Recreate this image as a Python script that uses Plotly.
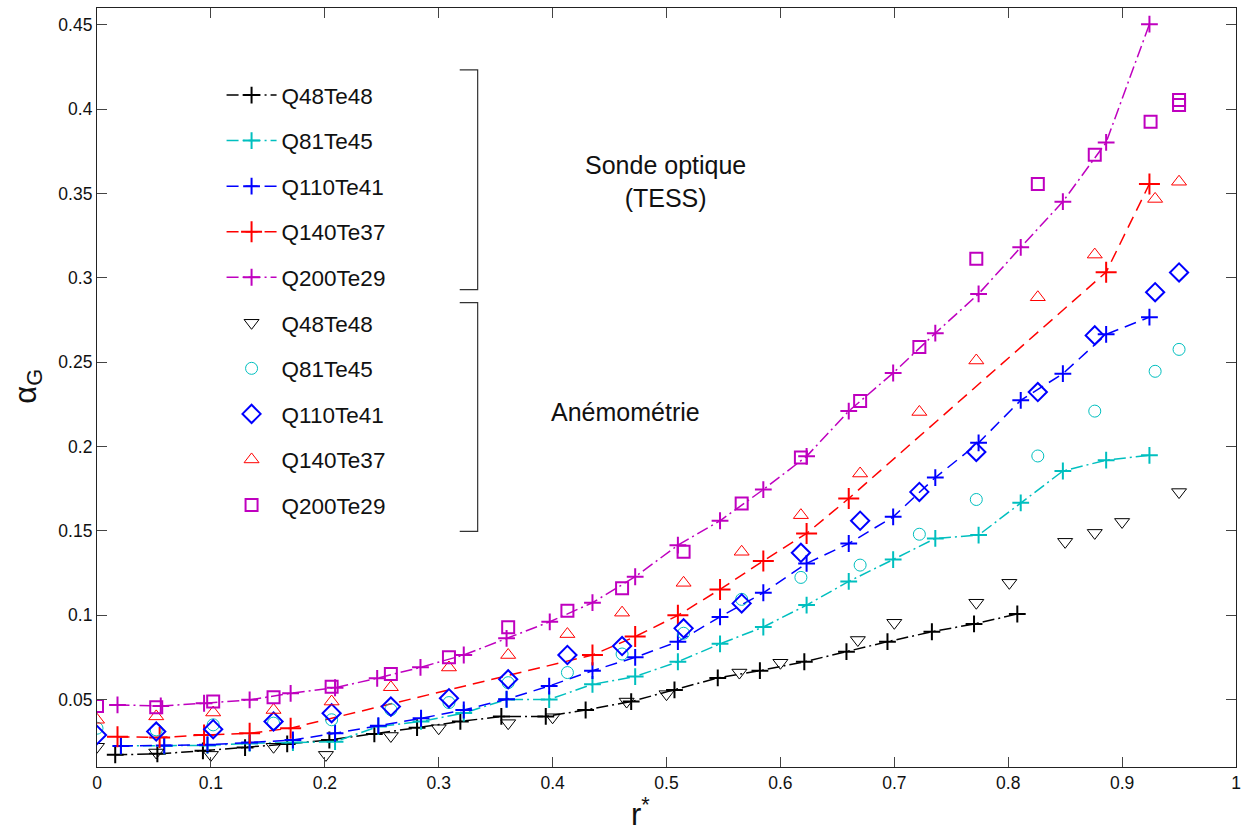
import plotly.graph_objects as go

# ---------------- data ----------------
# TESS optical probe (lines with "+" markers)
tess_x_q48 = [0.016, 0.053, 0.093, 0.130, 0.167, 0.204, 0.2435, 0.281, 0.319, 0.355, 0.394,
              0.429, 0.469, 0.507, 0.545, 0.582, 0.621, 0.658, 0.694, 0.733, 0.770, 0.808]
tess_y_q48 = [0.0172, 0.0178, 0.0196, 0.0215, 0.0237, 0.026, 0.0296, 0.0333, 0.037, 0.040, 0.040,
              0.0438, 0.0488, 0.0557, 0.0628, 0.0671, 0.0724, 0.0784, 0.0843, 0.0902, 0.0948, 0.1007]

tess_x_q81 = [0.021, 0.059, 0.097, 0.134, 0.172, 0.209, 0.247, 0.2845, 0.322, 0.3596, 0.397, 0.435,
              0.4725, 0.51, 0.547, 0.585, 0.623, 0.66, 0.699, 0.736, 0.774, 0.811, 0.848, 0.886, 0.924]
tess_y_q81 = [0.0225, 0.0225, 0.0228, 0.024, 0.0245, 0.025, 0.034, 0.037, 0.042, 0.050, 0.050, 0.059,
              0.0636, 0.0724, 0.083, 0.093, 0.106, 0.120, 0.133, 0.1455, 0.1475, 0.1666, 0.1855, 0.1919, 0.1948]

tess_x_q110 = [0.021, 0.059, 0.097, 0.134, 0.172, 0.209, 0.247, 0.2845, 0.322, 0.3596, 0.397, 0.435,
               0.4725, 0.51, 0.547, 0.585, 0.623, 0.66, 0.699, 0.736, 0.774, 0.811, 0.848, 0.886, 0.924]
tess_y_q110 = [0.0225, 0.0228, 0.0232, 0.0245, 0.026, 0.030, 0.0345, 0.0389, 0.0438, 0.0502, 0.058, 0.0671,
               0.075, 0.0843, 0.099, 0.1133, 0.1307, 0.1425, 0.1583, 0.1816, 0.2022, 0.2274, 0.2432, 0.2665, 0.2767]

tess_x_q140 = [0.018, 0.055, 0.094, 0.134, 0.17, 0.435, 0.4725, 0.51, 0.547, 0.585, 0.623, 0.66, 0.886, 0.924]
tess_y_q140 = [0.028, 0.0275, 0.029, 0.030, 0.033, 0.0764, 0.0873, 0.0999, 0.1153, 0.1322, 0.1485, 0.1692, 0.3034, 0.3557]

tess_x_q200 = [0.018, 0.056, 0.094, 0.134, 0.17, 0.209, 0.246, 0.284, 0.322, 0.3596, 0.3975, 0.435,
               0.4725, 0.51, 0.547, 0.585, 0.623, 0.66, 0.699, 0.736, 0.774, 0.811, 0.848, 0.886, 0.924]
tess_y_q200 = [0.0468, 0.0462, 0.0478, 0.0498, 0.0537, 0.0570, 0.0626, 0.0691, 0.0764, 0.0863, 0.0961, 0.1074,
               0.1228, 0.1415, 0.156, 0.1745, 0.1942, 0.221, 0.2436, 0.2672, 0.2905, 0.3181, 0.3452, 0.3803, 0.4504]

# Anemometry (markers only)
anem_x_q48 = [0, 0.052, 0.100, 0.155, 0.201, 0.258, 0.300, 0.361, 0.400, 0.465, 0.500,
              0.564, 0.600, 0.668, 0.700, 0.772, 0.801, 0.850, 0.876, 0.900, 0.950]
anem_y_q48 = [0.022, 0.0186, 0.0172, 0.022, 0.0172, 0.0284, 0.033, 0.036, 0.0395, 0.0488, 0.0532,
              0.066, 0.0718, 0.0853, 0.0955, 0.1074, 0.1192, 0.1435, 0.1488, 0.1553, 0.173]

anem_x = [0, 0.052, 0.102, 0.155, 0.206, 0.258, 0.309, 0.361, 0.413, 0.461,
          0.515, 0.566, 0.618, 0.670, 0.722, 0.772, 0.826, 0.876, 0.929, 0.950]
anem_y_q81 = [0.033, 0.032, 0.035, 0.036, 0.038, 0.044, 0.0482, 0.060, 0.066, 0.077,
              0.0893, 0.1094, 0.1224, 0.1297, 0.148, 0.1686, 0.1944, 0.221, 0.2446, 0.2576]
anem_y_q110 = [0.029, 0.031, 0.0324, 0.037, 0.0419, 0.0458, 0.0508, 0.062, 0.0764, 0.0817,
               0.0922, 0.107, 0.137, 0.156, 0.1731, 0.1968, 0.2323, 0.2659, 0.2915, 0.3032]
anem_y_q140 = [0.038, 0.040, 0.0423, 0.0438, 0.0488, 0.0573, 0.069, 0.0764, 0.0888, 0.1015,
               0.1192, 0.1376, 0.1593, 0.184, 0.2205, 0.251, 0.2885, 0.3138, 0.3468, 0.357]
anem_x_q200 = [0, 0.052, 0.102, 0.155, 0.206, 0.258, 0.309, 0.361, 0.413, 0.461, 0.515,
               0.566, 0.618, 0.670, 0.722, 0.772, 0.826, 0.876, 0.925, 0.950, 0.950]
anem_y_q200 = [0.0462, 0.0454, 0.0488, 0.0514, 0.0576, 0.0652, 0.075, 0.0928, 0.1026, 0.116, 0.1376,
               0.1662, 0.1935, 0.227, 0.259, 0.3113, 0.3557, 0.373, 0.3926, 0.4025, 0.4054]

series_names = ["Q48Te48", "Q81Te45", "Q110Te41", "Q140Te37", "Q200Te29"]
x_ticks = [0, 0.1, 0.2, 0.3, 0.4, 0.5, 0.6, 0.7, 0.8, 0.9, 1]
x_tick_text = ["0", "0.1", "0.2", "0.3", "0.4", "0.5", "0.6", "0.7", "0.8", "0.9", "1"]
y_ticks = [0.05, 0.1, 0.15, 0.2, 0.25, 0.3, 0.35, 0.4, 0.45]
y_tick_text = ["0.05", "0.1", "0.15", "0.2", "0.25", "0.3", "0.35", "0.4", "0.45"]

# ---------------- styling ----------------
colors = ["#000000", "#00bfbf", "#0000ff", "#ff0000", "#bf00bf"]
DASHDOT = "12px,4px,2px,4px"
DASH = "12px,7px"
line_dash = [DASHDOT, DASHDOT, DASH, DASH, DASHDOT]
plus_size = [12, 12, 12, 15, 12]

tess_x = [tess_x_q48, tess_x_q81, tess_x_q110, tess_x_q140, tess_x_q200]
tess_y = [tess_y_q48, tess_y_q81, tess_y_q110, tess_y_q140, tess_y_q200]
anem_xs = [anem_x_q48, anem_x, anem_x, anem_x, anem_x_q200]
anem_ys = [anem_y_q48, anem_y_q81, anem_y_q110, anem_y_q140, anem_y_q200]
anem_symbols = ["triangle-down-open", "circle-open", "diamond-open", "triangle-up-open", "square-open"]
anem_sizes = [13, 12, 14, 13, 12]
anem_lw = [1.0, 1.0, 2.0, 1.0, 2.0]

FONT = "Liberation Sans, Arial, Helvetica, sans-serif"

fig = go.Figure()
k = 0
for i in range(5):
    fig.add_trace(go.Scatter(
        x=tess_x[i], y=tess_y[i], mode="lines+markers", name=series_names[i],
        legendgroup=f"g{k}",
        line=dict(color=colors[i], width=1.5, dash=line_dash[i]),
        marker=dict(symbol="cross-thin", size=plus_size[i],
                    line=dict(color=colors[i], width=2)),
    ))
    k += 1
for i in range(5):
    fig.add_trace(go.Scatter(
        x=anem_xs[i], y=anem_ys[i], mode="markers", name=series_names[i],
        legendgroup=f"g{k}",
        marker=dict(symbol=anem_symbols[i], size=anem_sizes[i], color=colors[i],
                    line=dict(color=colors[i], width=anem_lw[i])),
    ))
    k += 1

# plot area in pixels: left 97, right 1240, top 7, bottom 767
L, R, T, B = 97, 1240, 7, 767
W, H = 1248, 836
def px(xp):
    return (xp - L) / (R - L)
def py(yp):
    return (B - yp) / (B - T)

axis_common = dict(
    showline=True, linecolor="#222222", linewidth=1.2, mirror="allticks",
    ticks="inside", ticklen=10, tickwidth=1, tickcolor="#444444",
    showgrid=False, zeroline=False,
    tickfont=dict(family=FONT, size=17.5, color="#111111"),
)

fig.update_layout(
    width=W, height=H,
    margin=dict(l=L, r=W - R, t=T, b=H - B),
    paper_bgcolor="white", plot_bgcolor="white",
    font=dict(family=FONT, color="#111111"),
    showlegend=True,
    legend=dict(
        x=px(222), y=py(73), xanchor="left", yanchor="top",
        bgcolor="rgba(255,255,255,0)", borderwidth=0,
        font=dict(family=FONT, size=22.5, color="#111111"),
        traceorder="grouped", tracegroupgap=13.3, itemwidth=50,
    ),
    xaxis=dict(range=[0, 1], tickvals=x_ticks, ticktext=x_tick_text,
               ticklabelstandoff=0, **axis_common),
    yaxis=dict(range=[0.01, 0.46], tickvals=y_ticks, ticktext=y_tick_text,
               ticklabelstandoff=0, **axis_common),
)

# brackets grouping the legend
bracket_color = "#333333"
for (y0, y1) in [(69, 289), (302, 531)]:
    fig.add_shape(type="path", xref="paper", yref="paper",
                  path=f"M {px(461)},{py(y0)} L {px(479)},{py(y0)} L {px(479)},{py(y1)} L {px(461)},{py(y1)}",
                  line=dict(color=bracket_color, width=1.2))

fig.add_annotation(x=px(667), y=py(181), xref="paper", yref="paper",
                   xanchor="center", yanchor="middle",
                   text="Sonde optique<br>(TESS)", showarrow=False,
                   font=dict(family=FONT, size=25, color="#111111"), align="center")
fig.add_annotation(x=px(627), y=py(412), xref="paper", yref="paper",
                   xanchor="center", yanchor="middle",
                   text="Anémométrie", showarrow=False,
                   font=dict(family=FONT, size=25, color="#111111"))

# axis titles
fig.add_annotation(x=px(27), y=py(386), xref="paper", yref="paper",
                   xanchor="center", yanchor="middle",
                   text="α<sub>G</sub>", showarrow=False, textangle=-90,
                   font=dict(family=FONT, size=31, color="#111111"))
fig.add_annotation(x=px(642), y=py(812), xref="paper", yref="paper",
                   xanchor="center", yanchor="middle",
                   text="r<sup>*</sup>", showarrow=False,
                   font=dict(family=FONT, size=31, color="#111111"))

fig.write_html("out.html",
               config={"displayModeBar": False},
               post_script="document.body.style.margin='0';document.body.style.overflow='hidden';")
